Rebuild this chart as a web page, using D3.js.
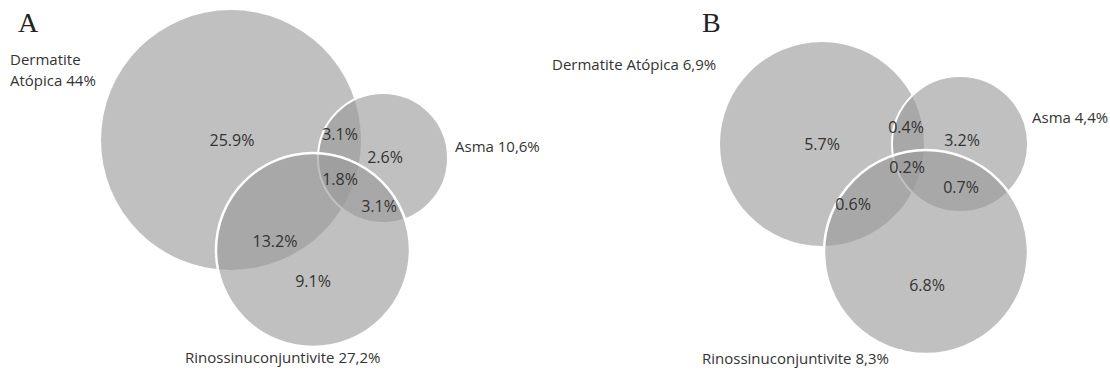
<!DOCTYPE html>
<html>
<head>
<meta charset="utf-8">
<script src="https://cdn.jsdelivr.net/npm/d3@7"></script>
<style>
  html, body { margin: 0; padding: 0; background: #fff; }
  svg { display: block; }
</style>
</head>
<body>
<svg id="chart" width="1110" height="370"></svg>
<script>
// Condition names (order: Dermatite Atópica, Asma, Rinossinuconjuntivite)
const setNames = ["Dermatite Atópica", "Asma", "Rinossinuconjuntivite"];

// Prevalence of each condition, %
const totalsA = [44, 10.6, 27.2];
const totalsB = [6.9, 4.4, 8.3];

// Venn regions: D only, D∩A, A only, D∩A∩R, A∩R, D∩R, R only
const regionKeys = ["D", "DA", "A", "DAR", "AR", "DR", "R"];
const regionsA = [25.9, 3.1, 2.6, 1.8, 3.1, 13.2, 9.1];
const regionsB = [5.7, 0.4, 3.2, 0.2, 0.7, 0.6, 6.8];

const panelLetters = ["A", "B"];

// ---- layout (pixel geometry of each panel) ----
const layouts = [
  {
    letter: { x: 18, y: 32 },
    circles: [ // cx, cy, r, white outline width
      { cx: 231, cy: 140, r: 130, sw: 0 },
      { cx: 383, cy: 158, r: 65, sw: 2 },
      { cx: 313, cy: 250, r: 97, sw: 2.5 }
    ],
    nameLabels: [
      { x: 10, y: 65, anchor: "start", lines: 2 },
      { x: 455, y: 152, anchor: "start", lines: 1 },
      { x: 185, y: 363, anchor: "start", lines: 1, box: false }
    ],
    regionPos: [[232, 146], [340, 140], [385, 163], [340, 185], [379, 212], [275, 247], [313, 287]]
  },
  {
    letter: { x: 702, y: 32 },
    circles: [
      { cx: 822, cy: 144, r: 102, sw: 0 },
      { cx: 960, cy: 144, r: 68, sw: 2 },
      { cx: 926, cy: 252, r: 102, sw: 2.5 }
    ],
    nameLabels: [
      { x: 552, y: 70, anchor: "start", lines: 1 },
      { x: 1032, y: 123, anchor: "start", lines: 1 },
      { x: 702, y: 364, anchor: "start", lines: 1, box: true }
    ],
    regionPos: [[822, 150], [906, 133], [962, 146], [907, 173], [961, 193], [853, 210], [927, 291]]
  }
];

const commaLocale = d3.formatLocale({ decimal: ",", thousands: ".", grouping: [3], currency: ["", ""] });
const fmtTotal = commaLocale.format("~f");
const fmtRegion = d3.format(".1f");

const svg = d3.select("#chart");
const panelsData = [
  { totals: totalsA, regions: regionsA },
  { totals: totalsB, regions: regionsB }
];

panelsData.forEach((pd, pi) => {
  const lay = layouts[pi];
  const g = svg.append("g").attr("class", "panel-" + panelLetters[pi]);

  // panel letter
  g.append("text")
    .attr("x", lay.letter.x)
    .attr("y", lay.letter.y)
    .attr("font-family", "'Liberation Serif', 'DejaVu Serif', serif")
    .attr("font-size", 28)
    .attr("fill", "#222")
    .text(panelLetters[pi]);

  // circles, drawn in set order so the later ones sit on top
  const circ = setNames.map((name, i) => Object.assign({ name, value: pd.totals[i] }, lay.circles[i]));
  g.selectAll("circle.set")
    .data(circ)
    .join("circle")
    .attr("class", "set")
    .attr("cx", d => d.cx)
    .attr("cy", d => d.cy)
    .attr("r", d => d.r)
    .attr("fill", "#999999")
    .attr("fill-opacity", 0.62)
    .attr("stroke", d => d.sw > 0 ? "#ffffff" : "none")
    .attr("stroke-width", d => d.sw);

  // set name labels
  circ.forEach((c, i) => {
    const nl = lay.nameLabels[i];
    const label = c.name + " " + fmtTotal(c.value) + "%";
    if (nl.box) {
      g.append("rect")
        .attr("x", nl.x - 7)
        .attr("y", nl.y - 15)
        .attr("width", 207)
        .attr("height", 22)
        .attr("fill", "#fff");
    }
    const t = g.append("text")
      .attr("x", nl.x)
      .attr("y", nl.y)
      .attr("text-anchor", nl.anchor)
      .attr("font-family", "'Open Sans', sans-serif")
      .attr("font-size", 15)
      .attr("fill", "#333");
    if (nl.lines === 2) {
      const words = c.name.split(" ");
      t.append("tspan").attr("x", nl.x).text(words[0]);
      t.append("tspan").attr("x", nl.x).attr("dy", 21)
        .text(words.slice(1).join(" ") + " " + fmtTotal(c.value) + "%");
    } else {
      t.text(label);
    }
  });

  // region values
  const reg = regionKeys.map((k, i) => ({ key: k, value: pd.regions[i], pos: lay.regionPos[i] }));
  g.selectAll("text.region")
    .data(reg)
    .join("text")
    .attr("class", "region")
    .attr("x", d => d.pos[0])
    .attr("y", d => d.pos[1])
    .attr("text-anchor", "middle")
    .attr("font-family", "'Open Sans', sans-serif")
    .attr("font-size", 16)
    .attr("fill", "#333")
    .text(d => fmtRegion(d.value) + "%");
});
</script>
</body>
</html>
